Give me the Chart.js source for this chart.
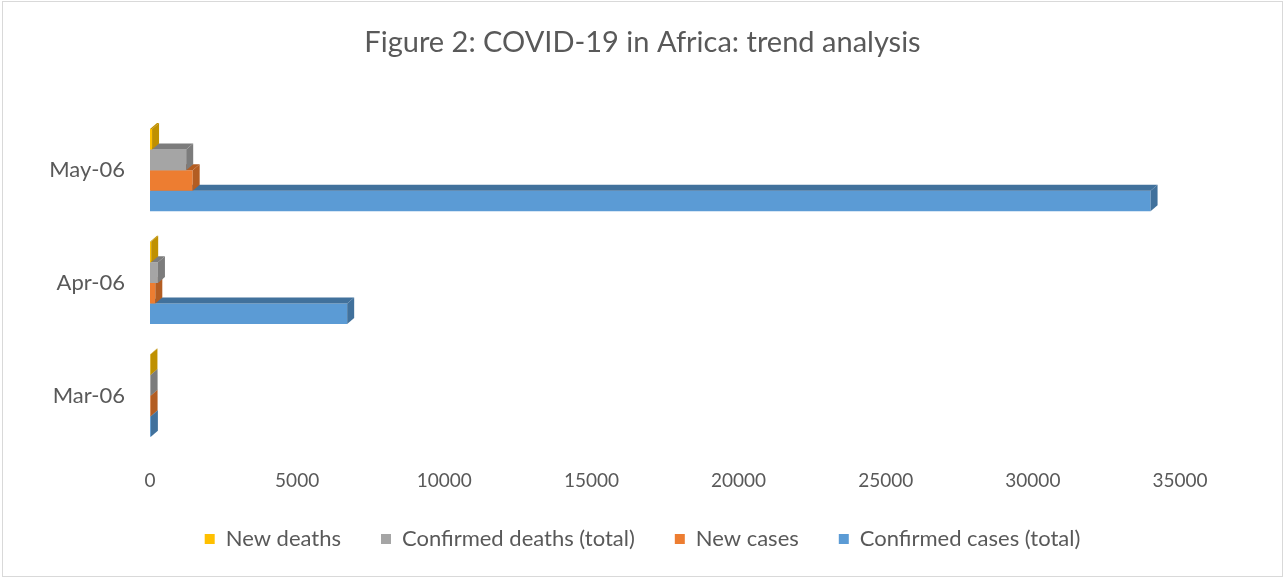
<!DOCTYPE html>
<html>
<head>
<meta charset="utf-8">
<script src="https://cdn.jsdelivr.net/npm/chart.js@4/dist/chart.umd.min.js"></script>
<style>
  html, body { margin: 0; padding: 0; background: #fff; }
  #frame { position: absolute; left: 2px; top: 1px; width: 1279px; height: 574px; border: 1px solid #d9d9d9; }
  #wrap { position: absolute; left: 0; top: 0; width: 1285px; height: 578px; }
</style>
</head>
<body>
<div id="frame"></div>
<div id="wrap"><canvas id="chart" width="1285" height="578"></canvas></div>
<script>
// categories, top to bottom as drawn
var categories = ['May-06', 'Apr-06', 'Mar-06'];

// values (same order as categories)
var newDeaths       = [70, 40, 15];
var confirmedDeaths = [1230, 270, 20];
var newCases        = [1450, 180, 20];
var confirmedCases  = [34000, 6700, 30];

var xTicks = [0, 5000, 10000, 15000, 20000, 25000, 30000, 35000];

var textColor = '#595959';
var fontFamily = 'Lato, "Open Sans", sans-serif';

// darker shades for the 3d sides
var sideColors = ['#bf9000', '#7c7c7c', '#b35d22', '#41719c'];

var depth3d = {
  id: 'depth3d',
  afterDatasetDraw: function (chart, args) {
    var ctx = chart.ctx;
    var meta = args.meta;
    var dx = 7, dy = 6;
    ctx.save();
    ctx.fillStyle = sideColors[args.index];
    meta.data.forEach(function (bar) {
      var p = bar.getProps(['x', 'y', 'base', 'height'], true);
      var top = p.y - p.height / 2;
      var bottom = p.y + p.height / 2;
      // top face
      ctx.beginPath();
      ctx.moveTo(p.base, top);
      ctx.lineTo(p.base + dx, top - dy);
      ctx.lineTo(p.x + dx, top - dy);
      ctx.lineTo(p.x, top);
      ctx.closePath();
      ctx.fill();
      // right face
      ctx.beginPath();
      ctx.moveTo(p.x, top);
      ctx.lineTo(p.x + dx, top - dy);
      ctx.lineTo(p.x + dx, bottom - dy);
      ctx.lineTo(p.x, bottom);
      ctx.closePath();
      ctx.fill();
    });
    ctx.restore();
  }
};

new Chart(document.getElementById('chart'), {
  type: 'bar',
  data: {
    labels: categories,
    datasets: [
      { label: 'New deaths', data: newDeaths, backgroundColor: '#ffc000' },
      { label: 'Confirmed deaths (total)', data: confirmedDeaths, backgroundColor: '#a5a5a5' },
      { label: 'New cases', data: newCases, backgroundColor: '#ed7d31' },
      { label: 'Confirmed cases (total)', data: confirmedCases, backgroundColor: '#5b9bd5' }
    ]
  },
  options: {
    indexAxis: 'y',
    responsive: false,
    animation: false,
    devicePixelRatio: 1,
    categoryPercentage: 0.73,
    barPercentage: 1.0,
    layout: { padding: { left: 0, right: 0, top: 0, bottom: 18 } },
    plugins: {
      title: {
        display: true,
        text: 'Figure 2: COVID-19 in Africa: trend analysis',
        color: textColor,
        font: { family: fontFamily, size: 29, weight: 'normal' },
        padding: { top: 25, bottom: 54 }
      },
      legend: {
        position: 'bottom',
        labels: {
          color: textColor,
          font: { family: fontFamily, size: 22 },
          boxWidth: 10,
          boxHeight: 10,
          padding: 40
        }
      },
      tooltip: { enabled: false }
    },
    scales: {
      x: {
        min: 0,
        max: 35000,
        afterBuildTicks: function (scale) {
          scale.ticks = xTicks.map(function (v) { return { value: v }; });
        },
        afterFit: function (scale) { scale.height = 36; },
        grid: { display: false, drawTicks: false },
        border: { display: false },
        ticks: {
          color: textColor,
          font: { family: fontFamily, size: 19 },
          padding: 17,
          maxRotation: 0,
          callback: function (v) { return String(v); }
        }
      },
      y: {
        grid: { display: false, drawTicks: false },
        border: { display: false },
        afterFit: function (scale) { scale.width = 150; },
        ticks: {
          color: textColor,
          font: { family: fontFamily, size: 22 },
          padding: 25
        }
      },
      yRight: {
        type: 'category',
        position: 'right',
        grid: { display: false, drawTicks: false },
        border: { display: false },
        ticks: { display: false },
        afterFit: function (scale) { scale.width = 105; }
      }
    }
  },
  plugins: [depth3d]
});
</script>
</body>
</html>
